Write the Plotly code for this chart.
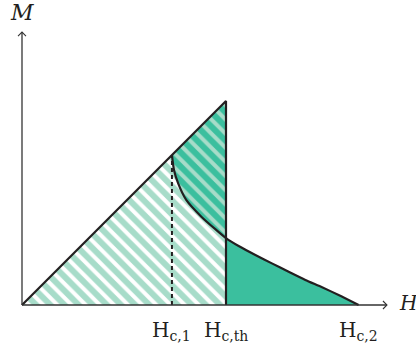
import plotly.graph_objects as go

# Characteristic fields (in units of H_c,th) and magnetisation curve of a type-II superconductor
H_c1 = 0.735
H_cth = 1.0
H_c2 = 1.65
M_peak = 1.0

curve_H = [0.735, 0.745, 0.765, 0.805, 0.879, 0.952, 1.000, 1.062, 1.144,
           1.225, 1.307, 1.389, 1.471, 1.552, 1.650]
curve_M = [0.735, 0.662, 0.597, 0.515, 0.433, 0.368, 0.328, 0.289, 0.245,
           0.204, 0.163, 0.123, 0.087, 0.049, 0.000]

tick_labels = ["H<sub>c,1</sub>", "H<sub>c,th</sub>", "H<sub>c,2</sub>"]
tick_pos = [H_c1, H_cth, H_c2]

GREEN = "#3bbf9e"
LIGHT = "#a7dcc9"
INK = "#231f20"
FONT = "DejaVu Serif"

fig = go.Figure()

# Meissner triangle, light hatching
fig.add_trace(go.Scatter(
    x=[0, H_cth, H_cth, 0], y=[0, M_peak, 0, 0],
    mode="lines", line=dict(width=0), fill="toself",
    fillcolor="rgba(0,0,0,0)",
    fillpattern=dict(shape="\\", fgcolor=LIGHT, fgopacity=1, bgcolor="white",
                     size=10, solidity=0.6),
    hoverinfo="skip"))

# Between ideal line and the curve (H_c1 .. H_c,th), darker hatching
i_th = curve_H.index(H_cth)
mid_H = [H_c1, H_cth, H_cth] + curve_H[:i_th + 1][::-1]
mid_M = [H_c1, M_peak, curve_M[i_th]] + curve_M[:i_th + 1][::-1]
fig.add_trace(go.Scatter(
    x=mid_H, y=mid_M, mode="lines", line=dict(width=0), fill="toself",
    fillcolor="rgba(0,0,0,0)",
    fillpattern=dict(shape="\\", fgcolor=GREEN, fgopacity=1, bgcolor=LIGHT,
                     size=10, solidity=0.6),
    hoverinfo="skip"))

# Mixed state beyond H_c,th, solid fill
fig.add_trace(go.Scatter(
    x=[H_cth] + curve_H[i_th:] + [H_cth], y=[0] + curve_M[i_th:] + [0],
    mode="lines", line=dict(width=0), fill="toself", fillcolor=GREEN,
    hoverinfo="skip"))

# Outlines
fig.add_trace(go.Scatter(x=[0, H_cth, H_cth], y=[0, M_peak, 0], mode="lines",
                         line=dict(color=INK, width=2.2), hoverinfo="skip"))
fig.add_trace(go.Scatter(x=curve_H, y=curve_M, mode="lines",
                         line=dict(color=INK, width=2.2, shape="spline", smoothing=0.6),
                         hoverinfo="skip"))
fig.add_trace(go.Scatter(x=[H_c1, H_c1], y=[0, H_c1], mode="lines",
                         line=dict(color=INK, width=2, dash="4px,3px"), hoverinfo="skip"))

# Axes with open arrowheads
x_end, y_end = 1.789, 1.338
shapes = [
    dict(type="line", x0=0, y0=0, x1=x_end, y1=0, line=dict(color="#333", width=1.3)),
    dict(type="line", x0=0, y0=0, x1=0, y1=y_end, line=dict(color="#333", width=1.3)),
    dict(type="path", xsizemode="pixel", ysizemode="pixel", xanchor=x_end, yanchor=0,
         path="M -4,4 Q -1,1 0,0 Q -1,-1 -4,-4", line=dict(color="#333", width=1.1)),
    dict(type="path", xsizemode="pixel", ysizemode="pixel", xanchor=0, yanchor=y_end,
         path="M -4,-4 Q -1,-1 0,0 Q 1,-1 4,-4", line=dict(color="#333", width=1.1)),
]

annotations = [
    dict(x=0, y=1.435, text="<i>M</i>", showarrow=False, font=dict(family=FONT, size=22, color=INK)),
    dict(x=1.838, y=0.01, text="<i>H</i>", showarrow=False, xanchor="left",
         font=dict(family=FONT, size=20, color=INK)),
]
for pos, lab in zip(tick_pos, tick_labels):
    annotations.append(dict(x=pos, y=-0.125, text=lab, showarrow=False,
                            font=dict(family=FONT, size=20, color=INK)))

fig.update_layout(
    width=416, height=349,
    margin=dict(l=0, r=0, t=0, b=0),
    paper_bgcolor="white", plot_bgcolor="white",
    showlegend=False,
    xaxis=dict(range=[-22 / 204, 394 / 204], visible=False, fixedrange=True),
    yaxis=dict(range=[-44 / 204, 305 / 204], visible=False, fixedrange=True),
    shapes=shapes, annotations=annotations,
)

fig.write_html("out.html")
